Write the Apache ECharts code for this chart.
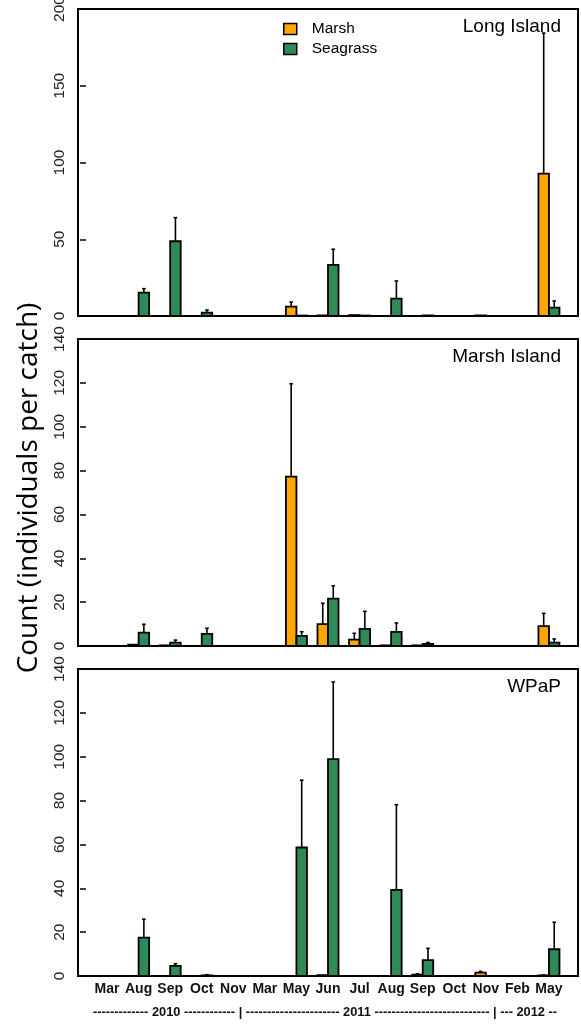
<!DOCTYPE html>
<html><head><meta charset="utf-8">
<script src="https://cdn.jsdelivr.net/npm/echarts@6/dist/echarts.min.js"></script>
<style>html,body{margin:0;padding:0;background:#fff}#c{width:581px;height:1025px}</style>
</head><body><div id="c"></div>
<script>
// ---- data ----
const months = ['Mar','Aug','Sep','Oct','Nov','Mar','May','Jun','Jul','Aug','Sep','Oct','Nov','Feb','May'];
const yearLine = '------------- 2010 ------------ | ---------------------- 2011 --------------------------- | --- 2012 --';
const panelNames = ['Long Island','Marsh Island','WPaP'];
const yMaxes = [200, 140, 140];
const ySteps = [50, 20, 20];

const marshLI      = [0, 0, 0, 0, 0, 0, 6.1, 0.4, 0.6, 0, 0, 0, 0.4, 0, 92.8];
const marshLIUp    = [0, 0, 0, 0, 0, 0, 9.1, 0.4, 0.6, 0, 0, 0, 0.4, 0, 184.3];
const seagrassLI   = [0, 15.2, 48.7, 2.2, 0, 0, 0.3, 33.3, 0.3, 11.3, 0.4, 0, 0, 0, 5.4];
const seagrassLIUp = [0, 17.8, 64.1, 3.9, 0, 0, 0.3, 43.5, 0.3, 22.8, 0.4, 0, 0, 0, 9.8];

const marshMI      = [0, 0.6, 0.3, 0, 0, 0, 77.2, 10.0, 2.9, 0.3, 0.3, 0, 0, 0, 9.1];
const marshMIUp    = [0, 0.6, 0.3, 0, 0, 0, 119.6, 19.5, 5.8, 0.3, 0.3, 0, 0, 0, 14.9];
const seagrassMI   = [0, 6.1, 1.5, 5.5, 0, 0, 4.6, 21.6, 7.8, 6.4, 1.0, 0, 0, 0, 1.5];
const seagrassMIUp = [0, 9.9, 2.7, 8.1, 0, 0, 6.5, 27.4, 15.8, 10.5, 1.6, 0, 0, 0, 3.2];

const marshWP      = [0, 0, 0, 0, 0, 0, 0, 0.4, 0, 0, 0.6, 0, 1.5, 0, 0.3];
const marshWPUp    = [0, 0, 0, 0, 0, 0, 0, 0.4, 0, 0, 1.0, 0, 2.1, 0, 0.4];
const seagrassWP   = [0, 17.5, 4.6, 0.3, 0, 0, 58.6, 98.9, 0, 39.3, 7.2, 0, 0, 0, 12.2];
const seagrassWPUp = [0, 25.9, 5.6, 0.6, 0, 0, 89.3, 134.1, 0, 78.1, 12.6, 0, 0, 0, 24.5];

// ---- styling / layout ----
const ORANGE = '#FFA500', GREEN = '#2E8B57';
const tops = [9, 339, 669];
const PANEL_H = 307;
const SANS = '"Liberation Sans", Arial, sans-serif';

const panels = [
  [marshLI, marshLIUp, seagrassLI, seagrassLIUp],
  [marshMI, marshMIUp, seagrassMI, seagrassMIUp],
  [marshWP, marshWPUp, seagrassWP, seagrassWPUp]
];

function barSeries(name, vals, ups, color, offset, gi) {
  return {
    type: 'custom', name: name, xAxisIndex: gi, yAxisIndex: gi,
    itemStyle: { color: color }, z: 3, silent: true,
    encode: { x: 0, y: 1 },
    data: vals.map((v, i) => [1 + 3 * i + offset + 0.5, v, ups[i]]),
    renderItem: function (params, api) {
      const xc = api.value(0), v = api.value(1), u = api.value(2);
      const p0 = api.coord([xc - 0.5, 0]), p1 = api.coord([xc + 0.5, v]);
      const children = [{
        type: 'rect',
        shape: { x: p0[0], y: p1[1], width: p1[0] - p0[0], height: p0[1] - p1[1] },
        style: { fill: color, stroke: '#000', lineWidth: 1.8 }
      }];
      if (u - v > 0.05) {
        const a = api.coord([xc, v]), b = api.coord([xc, u]);
        children.push({ type: 'line', shape: { x1: a[0], y1: a[1], x2: b[0], y2: b[1] },
          style: { stroke: '#000', lineWidth: 1.6 } });
        children.push({ type: 'line', shape: { x1: b[0] - 1.8, y1: b[1], x2: b[0] + 1.8, y2: b[1] },
          style: { stroke: '#000', lineWidth: 1.6 } });
      }
      return { type: 'group', children: children };
    }
  };
}

const grids = [], xAxes = [], yAxes = [], series = [], graphics = [];
panels.forEach((p, gi) => {
  grids.push({ left: 78, width: 500, top: tops[gi], height: PANEL_H, show: true,
    borderColor: '#000', borderWidth: 2, backgroundColor: 'transparent',
    containLabel: false, outerBoundsMode: 'none' });
  xAxes.push({
    type: 'value', gridIndex: gi, min: -0.76, max: 46.76,
    axisLine: { show: false }, axisTick: { show: false }, splitLine: { show: false },
    axisLabel: {
      show: gi === 2, customValues: months.map((m, i) => 2 + 3 * i),
      formatter: v => months[Math.round((v - 2) / 3)],
      fontFamily: SANS, fontWeight: 'bold', fontSize: 14, color: '#111', margin: 6
    }
  });
  yAxes.push({
    type: 'value', gridIndex: gi, min: 0, max: yMaxes[gi], interval: ySteps[gi],
    axisLine: { show: false }, splitLine: { show: false },
    axisTick: { show: true, length: 6, lineStyle: { color: '#000', width: 1.5 } },
    axisLabel: { rotate: 90, fontFamily: SANS, fontSize: 15.5, color: '#222', margin: 10,
      showMinLabel: true, showMaxLabel: true }
  });
  series.push(barSeries('Marsh', p[0], p[1], ORANGE, 0, gi));
  series.push(barSeries('Seagrass', p[2], p[3], GREEN, 1, gi));
  graphics.push({ type: 'text', x: 561, y: tops[gi] + 18, silent: true,
    style: { text: panelNames[gi], fontFamily: SANS, fontSize: 19, fill: '#000',
      align: 'right', verticalAlign: 'middle' } });
});

graphics.push({ type: 'text', x: 29, y: 488, rotation: Math.PI / 2, silent: true,
  style: { text: 'Count (individuals per catch)', fontFamily: '"Open Sans", "Noto Sans", sans-serif',
    fontSize: 28, fill: '#000', align: 'center', verticalAlign: 'middle' } });
graphics.push({ type: 'text', x: 325, y: 1012, silent: true,
  style: { text: yearLine, fontFamily: SANS, fontWeight: 'bold', fontSize: 12.8, fill: '#111',
    align: 'center', verticalAlign: 'middle' } });

const chart = echarts.init(document.getElementById('c'), null, { renderer: 'canvas' });
chart.setOption({
  animation: false,
  backgroundColor: '#fff',
  grid: grids, xAxis: xAxes, yAxis: yAxes, series: series,
  legend: {
    data: ['Marsh', 'Seagrass'], orient: 'vertical', left: 283, top: 21, padding: 0,
    icon: 'rect', itemWidth: 13, itemHeight: 11, itemGap: 4, selectedMode: false,
    itemStyle: { borderColor: '#000', borderWidth: 1.5 },
    textStyle: { fontFamily: SANS, fontSize: 15.5, color: '#000', padding: [0, 0, 0, 10] }
  },
  graphic: graphics
});
</script></body></html>
